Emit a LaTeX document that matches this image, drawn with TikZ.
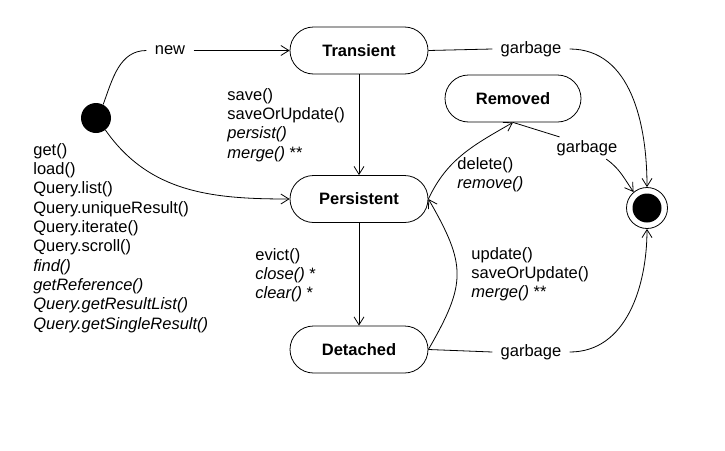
\documentclass[tikz,border=0pt]{standalone}
\usepackage{fontspec}
\setmainfont{Liberation Sans}
\usetikzlibrary{arrows.meta,positioning}

\begin{document}
\begin{tikzpicture}[x=1pt,y=-1pt,line width=0.8pt,
	font=\fontsize{16.5}{19.3}\selectfont,
	state/.style={draw,rounded corners=23.5pt,minimum width=138pt,minimum height=47pt,font=\fontsize{16.5}{19.3}\selectfont\bfseries},
	lbl/.style={inner xsep=8pt,inner ysep=3pt},
	calls/.style={align=left,inner sep=0pt,anchor=north west},
	>={Straight Barb[length=8pt,width=10pt]}]
\useasboundingbox (0,0) rectangle (725,450);
\node [circle,fill,minimum size=30pt,inner sep=0pt] (init) at (96,118) {};
\node [state] (transient) at (359,50.5) {Transient};
\node [state] (persistent) at (359,199) {Persistent};
\node [state] (detached) at (359,349.5) {Detached};
\node [state,minimum width=136pt] (removed) at (513,98.5) {Removed};
\node [circle,draw,minimum size=41pt,inner sep=0pt] (final) at (647,208) {};
\node [circle,fill,minimum size=29pt,inner sep=0pt] (finaldot) at (final) {};
% labels
\node [lbl] (new) at (170,50.5) {new};
\node [lbl] (garb1) at (531,49) {garbage};
\node [lbl] (garb2) at (587,148) {garbage};
\node [lbl] (garb3) at (531,352) {garbage};
\node [calls] (find) at (33,143) {get()\\load()\\Query.list()\\Query.uniqueResult()\\Query.iterate()\\Query.scroll()\\\textit{find()}\\\textit{getReference()}\\\textit{Query.getResultList()}\\\textit{Query.getSingleResult()}};
\node [calls] (save) at (227,88) {save()\\saveOrUpdate()\\\textit{persist()}\\\textit{merge()} **};
\node [calls] (delete) at (457,157) {delete()\\\textit{remove()}};
\node [calls] (evict) at (255,248) {evict()\\\textit{close()} *\\\textit{clear()} *};
\node [calls] (update) at (471,247) {update()\\saveOrUpdate()\\\textit{merge()} **};
% transitions
\draw (init.62) to[out=70,in=180] (new.west);
\draw [->] (new.east) -- (transient.west);
\draw (transient.east) -- (garb1.west);
\draw [->] (garb1.east) to[out=0,in=90] (final.north);
\draw [->] (transient) -- (persistent);
\draw [->] (init.-52) to[out=-55,in=180] (persistent.west);
\draw [->] (persistent.east) to[out=65,in=-150] (removed.south);
\draw (removed.south) -- (garb2.158);
\draw [->] (garb2.-30) to[out=-35,in=125] (final.130);
\draw [->] (persistent) -- (detached);
\draw [->] (detached.east) to[out=60,in=-60,looseness=1.3] (persistent.east);
\draw (detached.east) -- (garb3.west);
\draw [->] (garb3.east) to[out=0,in=-90] (final.south);
\end{tikzpicture}
\end{document}
